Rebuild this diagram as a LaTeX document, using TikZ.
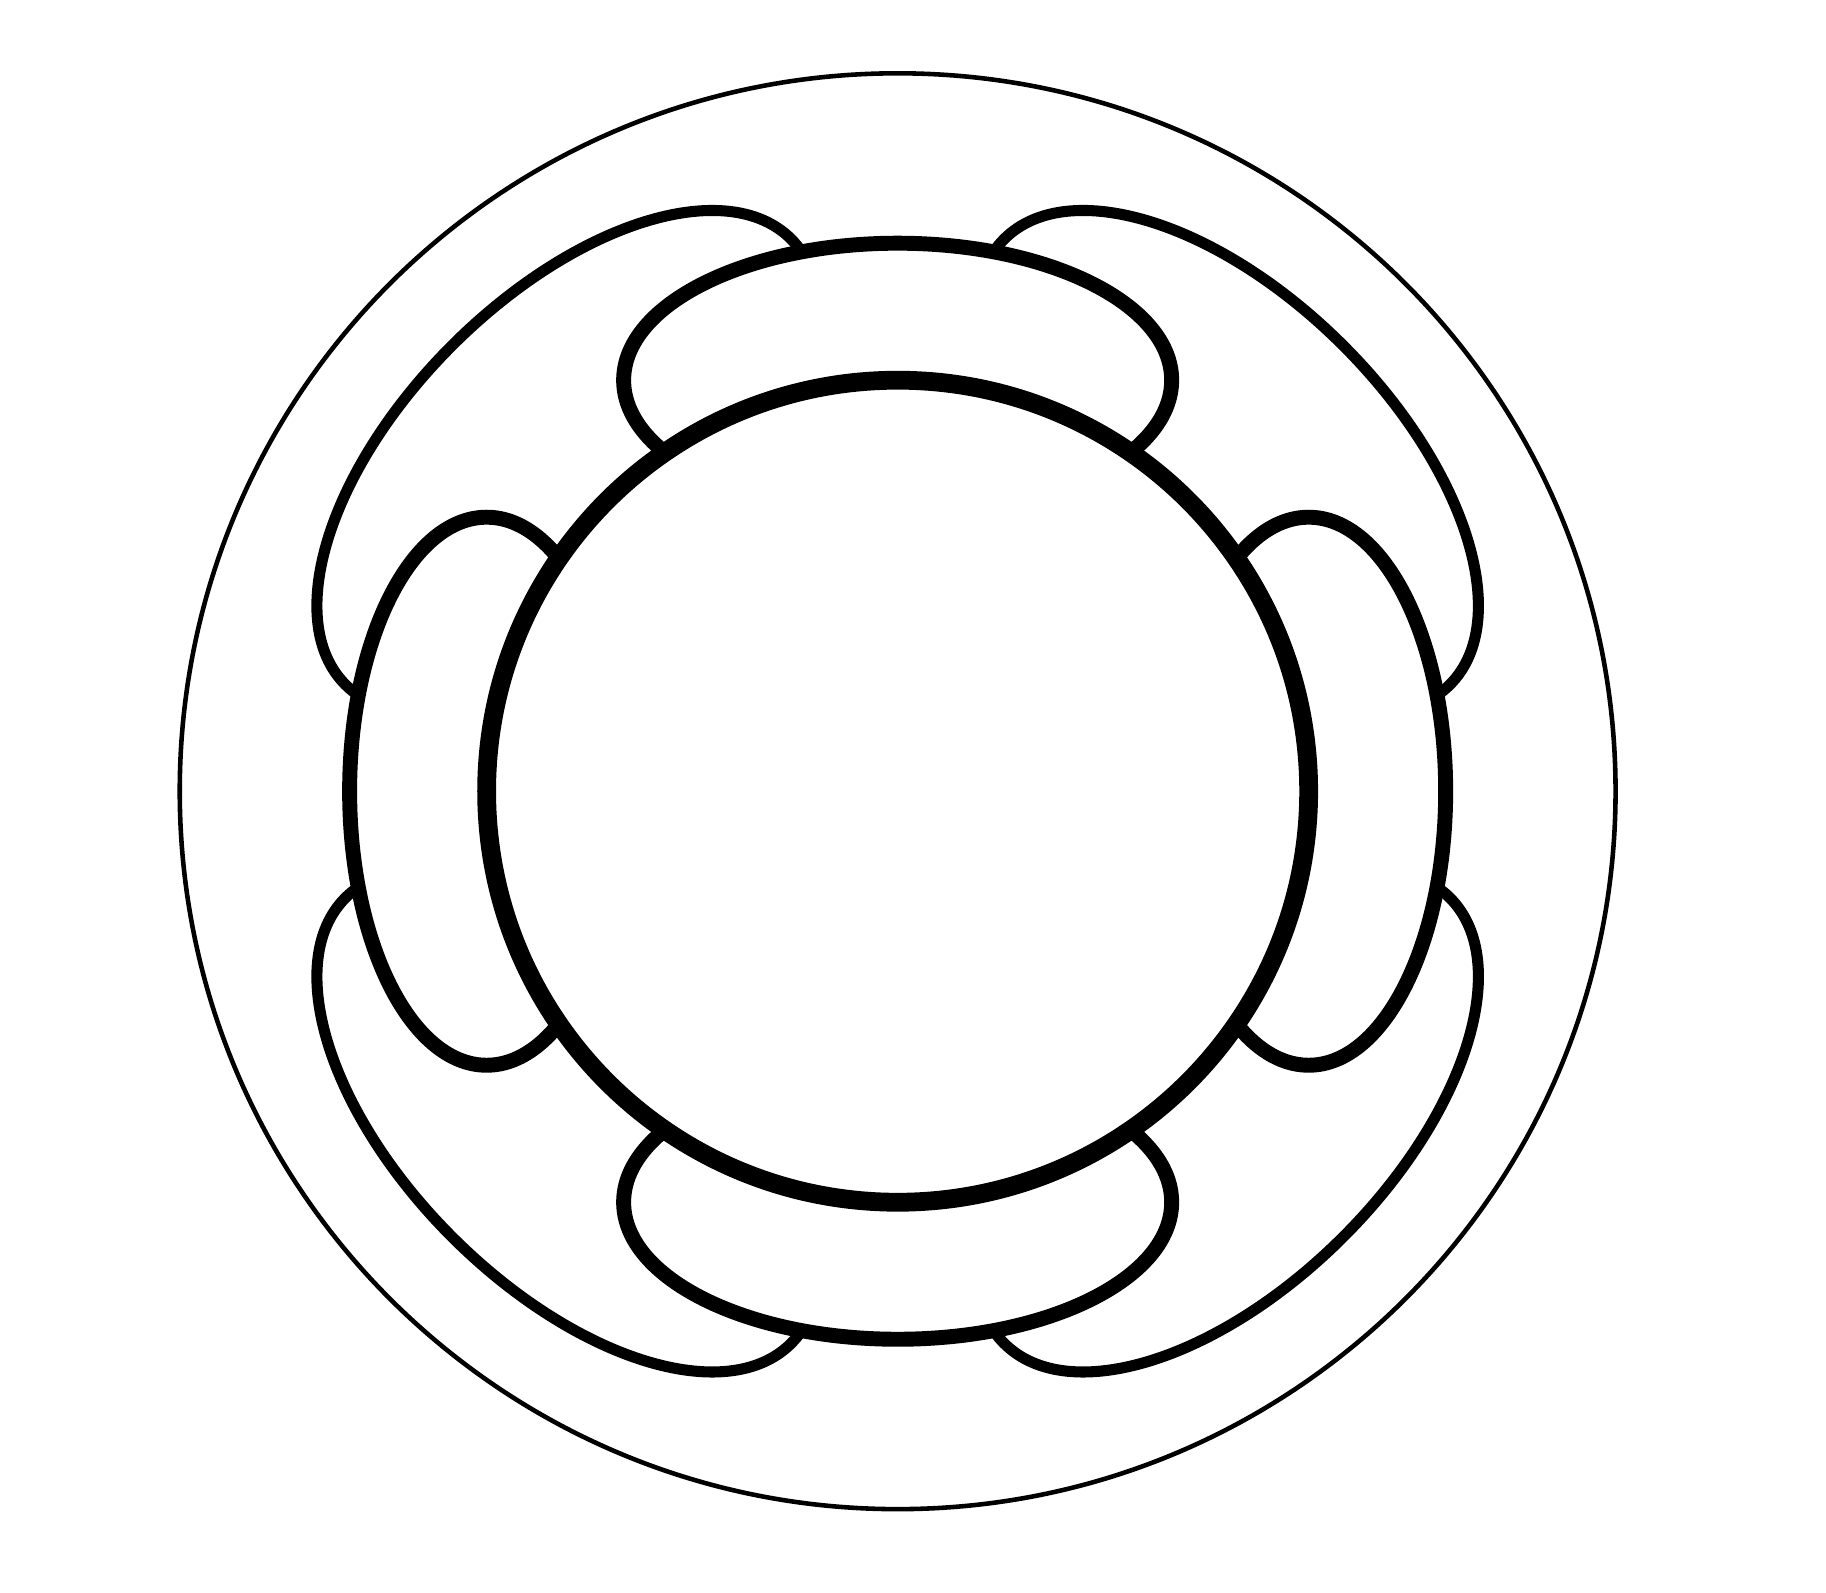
\documentclass[tikz,border=0pt]{standalone}
\usepackage{tikz}

\tikzset{
  rimline/.style={line width=0.95pt},
  loopline/.style={line width=2.3pt, fill=white},
  petal/.style={line width=3.1pt, fill=white},
  hubline/.style={line width=3.9pt, fill=white}
}

\begin{document}
\begin{tikzpicture}
    \useasboundingbox (-6.552, -5.845) rectangle (6.776, 5.775);

    % Outer ring
    \draw[rimline] (0, 0) circle (5.24);

    % Diagonal loops (behind)
    \foreach \ang in {45, 135, 225, 315}
        \draw[loopline, rotate=\ang] (3.4, 0) ellipse [x radius=1.2, y radius=2.3];

    % Petals on the axes
    \foreach \ang in {0, 90, 180, 270}
        \draw[petal, rotate=\ang] (3, 0) ellipse [x radius=1, y radius=2];

    % Hub
    \draw[hubline] (0, 0) circle (3);
\end{tikzpicture}
\end{document}
